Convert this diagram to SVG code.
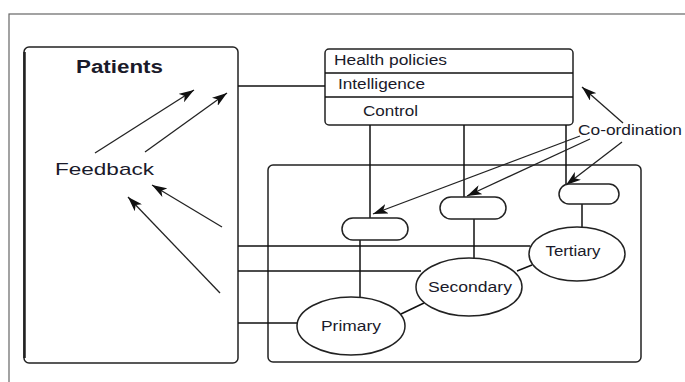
<svg xmlns="http://www.w3.org/2000/svg" width="685" height="382" viewBox="0 0 685 382">
<defs>
<marker id="ah" viewBox="0 0 15 10" refX="15" refY="5" markerWidth="15" markerHeight="10" markerUnits="userSpaceOnUse" orient="auto">
<path d="M0,0 L15,5 L0,10 L4,5 Z" fill="#111"/>
</marker>
</defs>
<style>
.box{fill:#fff;stroke:#222;stroke-width:1.5}
.ln{stroke:#111;stroke-width:1.5;fill:none}
.ar{stroke:#222;stroke-width:1.3;fill:none;marker-end:url(#ah)}
text{font-family:"Liberation Sans",Arial,sans-serif;fill:#1a1a2a}
.t{font-size:14px}
</style>
<rect width="685" height="382" fill="#fff"/>
<rect x="9" y="14" width="690" height="380" fill="none" stroke="#666" stroke-width="1.2"/>

<g id="patients">
<rect class="box" x="24" y="47" width="214" height="316" rx="5"/>
<line x1="24.5" y1="52" x2="24.5" y2="358" stroke="#222" stroke-width="2.5"/>
<text x="76" y="73" font-size="18" font-weight="bold" textLength="87" lengthAdjust="spacingAndGlyphs">Patients</text>
<text x="55" y="175" font-size="17" textLength="99" lengthAdjust="spacingAndGlyphs">Feedback</text>
</g>

<g id="topbox">
<rect class="box" x="325" y="49" width="248" height="76" rx="4"/>
<line class="ln" x1="325" y1="73" x2="573" y2="73"/>
<line class="ln" x1="325" y1="97" x2="573" y2="97"/>
<text class="t" x="334" y="65" textLength="113" lengthAdjust="spacingAndGlyphs">Health policies</text>
<text class="t" x="338" y="89" textLength="87" lengthAdjust="spacingAndGlyphs">Intelligence</text>
<text class="t" x="363" y="116" textLength="55" lengthAdjust="spacingAndGlyphs">Control</text>
</g>

<g id="services">
<rect class="box" x="268" y="165" width="373" height="197" rx="5"/>
</g>

<g id="connectors">
<line class="ln" x1="238" y1="86" x2="325" y2="86"/>
<line class="ln" x1="370" y1="125" x2="370" y2="218"/>
<line class="ln" x1="464" y1="125" x2="464" y2="197"/>
<line class="ln" x1="566" y1="125" x2="566" y2="184"/>
<line class="ln" x1="360" y1="240" x2="360" y2="297"/>
<line class="ln" x1="474" y1="219" x2="474" y2="259"/>
<line class="ln" x1="582" y1="204" x2="582" y2="228"/>
<line class="ln" x1="238" y1="246" x2="530" y2="246"/>
<line class="ln" x1="238" y1="271" x2="421" y2="271"/>
<line class="ln" x1="238" y1="323" x2="297" y2="323"/>
<line class="ln" x1="401" y1="314" x2="424" y2="303"/>
<line class="ln" x1="517" y1="271" x2="532" y2="265"/>
<line class="ar" x1="95" y1="153" x2="194" y2="90"/>
<line class="ar" x1="145" y1="152" x2="227" y2="93"/>
<line class="ar" x1="222" y1="227" x2="152" y2="185"/>
<line class="ar" x1="220" y1="293" x2="128" y2="197"/>
<line class="ar" x1="623" y1="123" x2="582" y2="87"/>
<line class="ar" x1="580" y1="136" x2="373" y2="214"/>
<line class="ar" x1="590" y1="139" x2="467" y2="196"/>
<line class="ar" x1="622" y1="142" x2="566" y2="185"/>
</g>

<g id="coordination">
<text class="t" x="578" y="135" textLength="104" lengthAdjust="spacingAndGlyphs">Co-ordination</text>
</g>

<g id="pill1"><rect class="box" x="342" y="218" width="66" height="22" rx="11"/></g>
<g id="pill2"><rect class="box" x="440" y="197" width="66" height="22" rx="11"/></g>
<g id="pill3"><rect class="box" x="559" y="184" width="60" height="20" rx="10"/></g>

<g id="primary">
<ellipse class="box" cx="351" cy="326" rx="54" ry="29"/>
<text class="t" x="351" y="331" text-anchor="middle" textLength="60" lengthAdjust="spacingAndGlyphs">Primary</text>
</g>
<g id="secondary">
<ellipse class="box" cx="469" cy="287" rx="53" ry="29"/>
<text class="t" x="470" y="292" text-anchor="middle" textLength="84" lengthAdjust="spacingAndGlyphs">Secondary</text>
</g>
<g id="tertiary">
<ellipse class="box" cx="577" cy="254" rx="48" ry="27"/>
<text class="t" x="573" y="256" text-anchor="middle" textLength="55" lengthAdjust="spacingAndGlyphs">Tertiary</text>
</g>
</svg>
